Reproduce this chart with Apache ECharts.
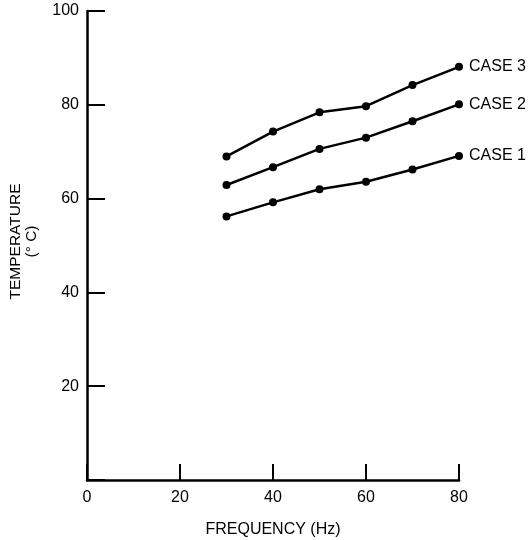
<!DOCTYPE html>
<html>
<head>
<meta charset="utf-8">
<script src="https://cdn.jsdelivr.net/npm/echarts@6/dist/echarts.min.js"></script>
<style>html,body{margin:0;padding:0;background:#fff;}#c{width:530px;height:540px;}</style>
</head>
<body>
<div id="c"></div>
<script>
const frequency = [30, 40, 50, 60, 70, 80];
const case1 = [56.2, 59.2, 62.0, 63.6, 66.2, 69.1];
const case2 = [62.9, 66.7, 70.6, 73.0, 76.5, 80.1];
const case3 = [69.0, 74.3, 78.4, 79.7, 84.2, 88.1];
const seriesNames = ['CASE 1', 'CASE 2', 'CASE 3'];
const xTicks = [0, 20, 40, 60, 80];
const yTicks = [0, 20, 40, 60, 80, 100];

const font = 'Liberation Sans, Arial, Helvetica, sans-serif';
const chart = echarts.init(document.getElementById('c'));
const mk = (name, vals) => ({
  name: name,
  type: 'line',
  data: frequency.map((f, i) => [f, vals[i]]),
  symbol: 'circle',
  symbolSize: 8,
  itemStyle: { color: '#000' },
  lineStyle: { color: '#000', width: 2.5 },
  endLabel: { show: true, formatter: name, distance: 10, color: '#000', fontSize: 16, fontFamily: font },
  z: 3
});
chart.setOption({
  animation: false,
  backgroundColor: '#fff',
  grid: { left: 87, right: 71, top: 11, bottom: 60, containLabel: false, outerBoundsMode: 'none' },
  xAxis: {
    type: 'value', min: xTicks[0], max: xTicks[xTicks.length - 1], interval: 20,
    name: 'FREQUENCY (Hz)', nameLocation: 'middle', nameGap: 42,
    nameTextStyle: { color: '#000', fontSize: 16, fontFamily: font },
    axisLine: { show: true, lineStyle: { color: '#000', width: 2.5 } },
    axisTick: { show: true, inside: true, length: 16, lineStyle: { color: '#000', width: 2 } },
    axisLabel: { color: '#000', fontSize: 16, fontFamily: font, margin: 10 },
    splitLine: { show: false }
  },
  yAxis: {
    type: 'value', min: yTicks[0], max: yTicks[yTicks.length - 1], interval: 20,
    name: 'TEMPERATURE\n(° C)', nameLocation: 'middle', nameGap: 47, nameRotate: 90,
    nameTextStyle: { color: '#000', fontSize: 15.5, fontFamily: font, lineHeight: 16, align: 'center', padding: [0, 0, 0, 8] },
    axisLine: { show: true, lineStyle: { color: '#000', width: 2.5 } },
    axisTick: { show: true, inside: true, length: 18, lineStyle: { color: '#000', width: 2 } },
    axisLabel: { color: '#000', fontSize: 16, fontFamily: font, margin: 8,
      formatter: v => (v === yTicks[0] ? '' : String(v)) },
    splitLine: { show: false }
  },
  series: [mk(seriesNames[0], case1), mk(seriesNames[1], case2), mk(seriesNames[2], case3)]
});
</script>
</body>
</html>
